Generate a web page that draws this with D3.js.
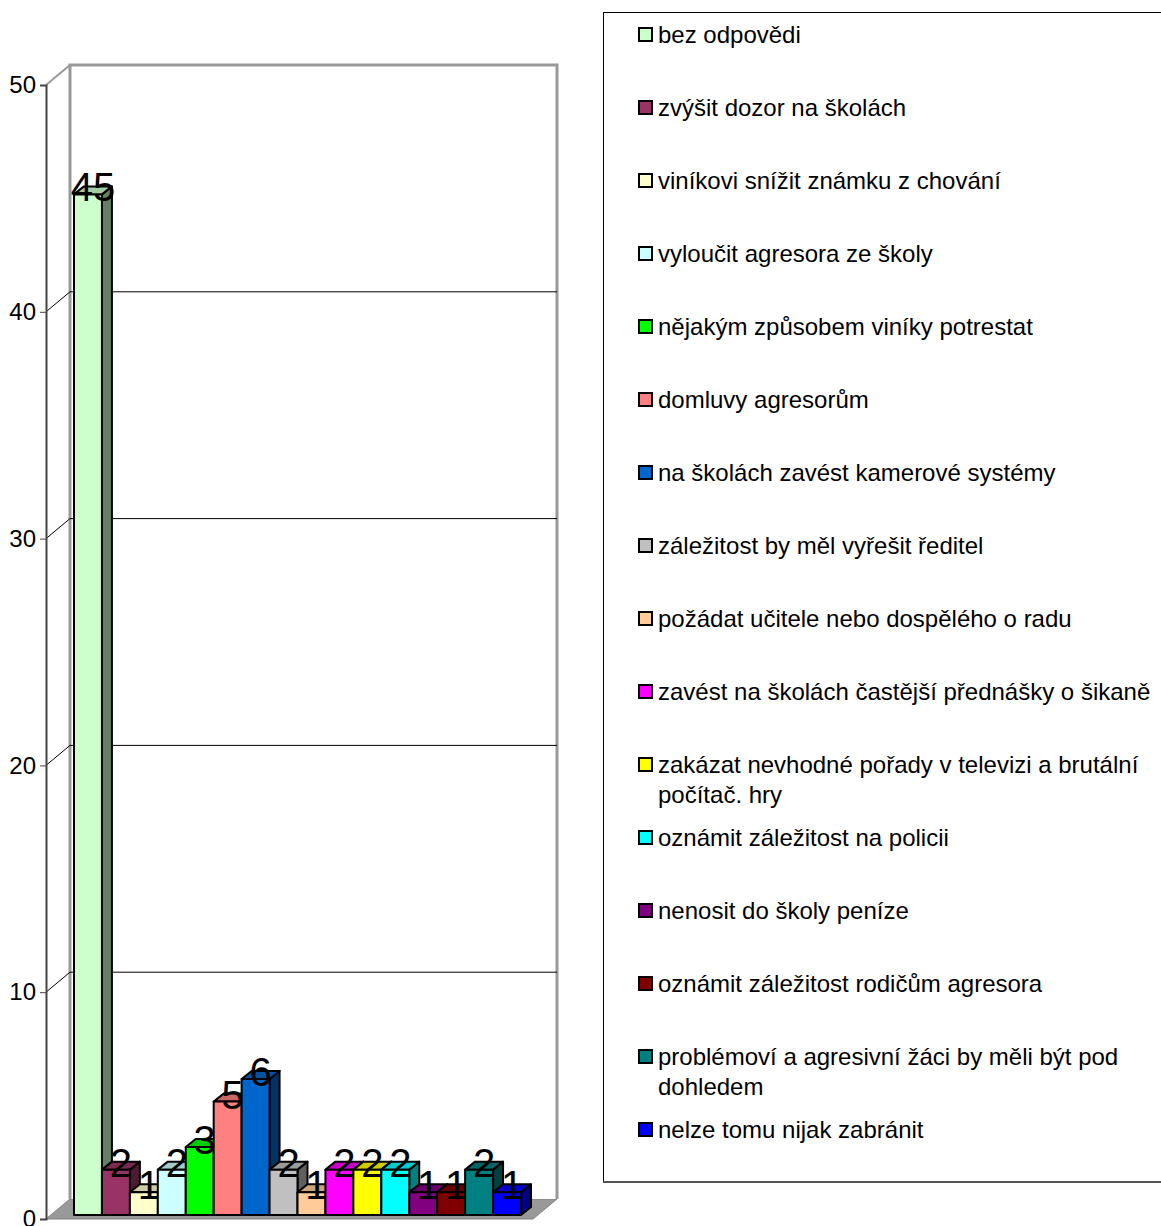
<!DOCTYPE html>
<html><head><meta charset="utf-8">
<script src="https://cdn.jsdelivr.net/npm/d3@7"></script>
<style>
html,body{margin:0;padding:0;background:#fff;}
svg text{font-family:"Liberation Sans",Arial,sans-serif;}
</style></head>
<body><svg id="c" width="1161" height="1226"></svg>
<script>
const categories = [
 "bez odpovědi",
 "zvýšit dozor na školách",
 "viníkovi snížit známku z chování",
 "vyloučit agresora ze školy",
 "nějakým způsobem viníky potrestat",
 "domluvy agresorům",
 "na školách zavést kamerové systémy",
 "záležitost by měl vyřešit ředitel",
 "požádat učitele nebo dospělého o radu",
 "zavést na školách častější přednášky o šikaně",
 "zakázat nevhodné pořady v televizi a brutální počítač. hry",
 "oznámit záležitost na policii",
 "nenosit do školy peníze",
 "oznámit záležitost rodičům agresora",
 "problémoví a agresivní žáci by měli být pod dohledem",
 "nelze tomu nijak zabránit"
];
const values = [45, 2, 1, 2, 3, 5, 6, 2, 1, 2, 2, 2, 1, 1, 2, 1];
const colors = ["#CCFFCC","#993366","#FFFFCC","#CCFFFF","#00FF00","#FF8080","#0066CC","#C0C0C0",
                "#FFCC99","#FF00FF","#FFFF00","#00FFFF","#800080","#800000","#008080","#0000FF"];
const yTicks = [0, 10, 20, 30, 40, 50];

const svg = d3.select("#c");
const X0 = 46, X1 = 533, Y0 = 1219, Y1 = 85;
const DX = 24, DY = -20; // wall depth
const y = d3.scaleLinear().domain([0, 50]).range([Y0, Y1]);
const x = d3.scaleBand().domain(categories).range([69, 516]).padding(0);

function shade(c, k) { const r = d3.rgb(c); return d3.rgb(r.r * k, r.g * k, r.b * k).formatHex(); }

// floor
svg.append("polygon")
  .attr("points", [[X0, Y0], [X1, Y0], [X1 + DX, Y0 + DY], [X0 + DX, Y0 + DY]].map(p => p.join(",")).join(" "))
  .attr("fill", "#999999").attr("stroke", "#808080").attr("stroke-width", 1);

// back wall
svg.append("rect").attr("x", X0 + DX).attr("y", Y1 + DY).attr("width", X1 - X0)
  .attr("height", Y0 - Y1).attr("fill", "#fff");
svg.append("path")
  .attr("d", `M${X0 + DX},${Y0 + DY}V${Y1 + DY}H${X1 + DX}V${Y0 + DY}`)
  .attr("fill", "none").attr("stroke", "#999").attr("stroke-width", 3);
svg.append("line").attr("x1", X0).attr("y1", Y1).attr("x2", X0 + DX).attr("y2", Y1 + DY)
  .attr("stroke", "#999").attr("stroke-width", 2);

// gridlines
yTicks.filter(t => t > 0 && t < 50).forEach(t => {
  const yy = y(t);
  svg.append("path").attr("d", `M${X0},${yy}L${X0 + DX},${yy + DY}H${X1 + DX}`)
    .attr("fill", "none").attr("stroke", "#000").attr("stroke-width", 1);
});

// axis
const ax = svg.append("g").attr("transform", `translate(${X0},0)`)
  .call(d3.axisLeft(y).tickValues(yTicks).tickSize(6).tickPadding(4));
ax.select(".domain").attr("stroke", "#444").attr("stroke-width", 2);
ax.selectAll(".tick line").attr("stroke", "#444");
ax.selectAll("text").attr("font-size", 24).attr("fill", "#000")
  .attr("font-family", "Liberation Sans, Arial, sans-serif");

// bars
const f1x = 5, f1y = -4;
const w = x.bandwidth();
const bars = svg.append("g");
categories.forEach((c, i) => {
  const v = values[i];
  const xl = x(c) + f1x, xr = xl + w;
  const yt = y(v) + f1y, yb = y(0) + f1y;
  const g = bars.append("g").attr("stroke", "#000").attr("stroke-width", 2).attr("stroke-linejoin", "round");
  g.append("polygon").attr("points", [[xr, yt], [xr + 10, yt - 8], [xr + 10, yb - 8], [xr, yb]].map(p => p.join(",")).join(" "))
    .attr("fill", shade(colors[i], 0.5));
  g.append("polygon").attr("points", [[xl, yt], [xr, yt], [xr + 10, yt - 8], [xl + 10, yt - 8]].map(p => p.join(",")).join(" "))
    .attr("fill", shade(colors[i], 0.8));
  g.append("rect").attr("x", xl).attr("y", yt).attr("width", w).attr("height", yb - yt)
    .attr("fill", colors[i]);
});
// value labels
categories.forEach((c, i) => {
  const v = values[i];
  svg.append("text").attr("x", x(c) + f1x + w / 2 + 5).attr("y", y(v) + f1y + 7)
    .attr("text-anchor", "middle").attr("font-size", 40).attr("fill", "#000").text(v);
});

// legend
const LX = 603, LY = 12, LB = 1182;
svg.append("rect").attr("x", LX + 0.5).attr("y", LY + 0.5).attr("width", 700).attr("height", LB - LY)
  .attr("fill", "#fff").attr("stroke", "#000").attr("stroke-width", 1);
svg.append("line").attr("x1", LX).attr("x2", 1161).attr("y1", LB).attr("y2", LB).attr("stroke", "#555").attr("stroke-width", 2);
const lg = svg.append("g");
const maxW = 503;
categories.forEach((c, i) => {
  const yc = 35 + 73 * i;
  lg.append("rect").attr("x", 639).attr("y", yc - 7).attr("width", 13).attr("height", 13)
    .attr("fill", colors[i]).attr("stroke", "#000").attr("stroke-width", 2);
  const t = lg.append("text").attr("x", 658).attr("y", yc + 8).attr("font-size", 24).attr("fill", "#000");
  const words = c.split(" ");
  let line = [];
  let ts = t.append("tspan").attr("x", 658).attr("dy", 0);
  words.forEach(wd => {
    line.push(wd);
    ts.text(line.join(" "));
    if (ts.node().getComputedTextLength() > maxW && line.length > 1) {
      line.pop(); ts.text(line.join(" "));
      line = [wd];
      ts = t.append("tspan").attr("x", 658).attr("dy", 30).text(wd);
    }
  });
});
</script></body></html>
